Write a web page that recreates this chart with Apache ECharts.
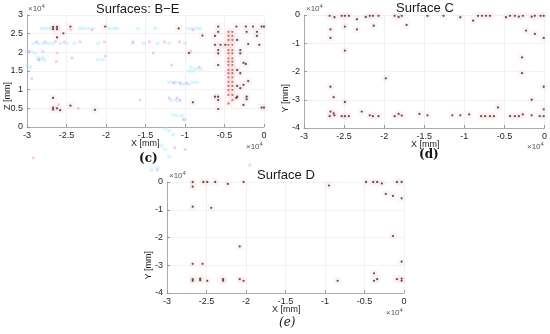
<!DOCTYPE html>
<html><head><meta charset="utf-8">
<script src="https://cdn.jsdelivr.net/npm/echarts@6/dist/echarts.min.js"></script>
<style>html,body{margin:0;padding:0;background:#fff}#c{width:550px;height:334px}</style>
</head><body><div id="c"></div>
<script>
// All coordinates in units of 1e4 mm (axis shows ×10^4)
const xTicks = [-3, -2.5, -2, -1.5, -1, -0.5, 0];
const zTicks = [0, 0.5, 1, 1.5, 2, 2.5, 3];
const yTicks = [-4, -3, -2, -1, 0];

// Panel (c) Surfaces: B-E — dark points
const cDarkX = [-2.67,-2.67,-2.62,-2.62,-2.54,-2.62,-2.45,-2.01,-2.67,-2.67,-2.67,-2.62,-2.58,-2.45,-2.14,
  -1.08,-0.95,-0.90,-0.78,
  -0.58,-0.35,-0.23,-0.14,-0.03,0.0,-0.58,-0.22,-0.09,-0.62,-0.09,-0.62,-0.55,-0.49,-0.20,-0.06,
  -0.58,-0.30,-0.58,-0.30,-0.26,-0.23,-0.58,-0.30,-0.20,-0.26,-0.62,-0.58,-0.34,-0.22,-0.58,-0.22,-0.35,-0.26,-0.58,-0.03,0.0,-0.34,-0.34,-0.30,-0.34];
const cDarkY = [2.68,2.62,2.68,2.62,2.51,2.40,2.69,2.69,0.78,0.52,0.47,0.50,0.45,0.57,0.46,
  2.64,1.98,0.66,2.45,
  2.69,2.69,2.69,2.69,2.69,2.69,2.55,2.55,2.55,2.44,2.44,2.20,2.20,2.20,2.22,2.20,
  2.06,2.06,1.97,1.97,1.72,1.69,1.66,1.44,1.23,1.13,0.81,0.81,0.81,0.81,0.72,0.74,0.78,0.59,0.48,0.52,0.52,2.33,1.53,1.04,1.10];
// Panel (c) — dense red column
const cRedX = [-0.45,-0.40,-0.45,-0.40,-0.45,-0.40,-0.45,-0.40,-0.45,-0.40,-0.45,-0.40,-0.45,-0.40,-0.45,-0.40,-0.45,-0.40,-0.45,-0.40,-0.45,-0.40,-0.45,-0.40,-0.45,-0.40,-0.45,-0.40,-0.45,-0.40,-0.45,-0.40,-0.40,-0.45];
const cRedY = [2.55,2.55,2.44,2.44,2.33,2.33,2.20,2.20,2.06,2.06,1.97,1.97,1.84,1.84,1.75,1.75,1.66,1.66,1.53,1.53,1.44,1.44,1.33,1.33,1.21,1.21,1.10,1.10,0.99,0.99,0.86,0.86,0.72,0.63];
// Panel (c) — faint magenta points
const cPinkX = [-2.88,-2.77,-2.64,-2.53,-2.45,-2.33,-2.18,-2.02,-1.66,-1.45,-1.26,-1.07,-0.90,
  -2.98,-2.80,-2.62,-1.40,-0.93,-2.85,-2.63,-2.43,-2.01,-2.94,-1.17,-0.82,-1.14,-1.06,-0.98,-1.20,-1.10,-1.57,-1.06,-1.02,-2.92,-1.13,-1.00,-0.18,-2.60,-2.35,-1.35];
const cPinkY = [2.28,2.28,2.28,2.28,2.60,2.28,2.60,2.28,2.28,2.28,2.28,2.28,2.60,
  2.02,2.02,1.98,1.98,2.02,1.80,1.75,1.85,1.90,1.30,1.66,1.60,1.18,1.18,1.18,0.78,0.78,0.72,0.72,0.20,-0.83,-0.55,-0.60,-1.02,0.60,0.50,-1.15];
// Panel (c) — faint cyan points
const cCyanX = [-2.81,-2.77,-2.73,-2.69,-2.33,-2.28,-2.22,-2.16,-1.95,-1.90,-1.86,-1.60,-1.38,-0.97,-0.92,-0.86,-0.81,
  -2.92,-2.86,-2.80,-2.74,-2.68,-2.58,-2.50,-2.40,-2.10,-1.66,-1.52,-1.35,-1.20,-1.00,
  -3.00,-2.95,-2.90,-2.86,-2.80,-2.84,-2.78,-2.10,-2.04,-3.00,-2.96,-0.92,-0.86,-0.80,
  -1.20,-1.15,-1.10,-1.05,-1.00,-0.95,-0.90,-0.85,-1.18,-1.12,-1.08,-1.15,-1.10,-1.04,-1.00,-1.25,-1.20,-1.15,-1.30,-1.25,-1.20,-1.42,-1.35,-0.95,-0.90];
const cCyanY = [2.64,2.64,2.64,2.64,2.64,2.64,2.64,2.64,2.64,2.64,2.64,2.64,2.64,2.64,2.64,2.64,2.64,
  2.24,2.24,2.24,2.24,2.24,2.24,2.24,2.24,2.24,2.24,2.24,2.24,2.24,2.24,
  2.02,2.02,1.98,1.85,1.85,1.80,1.80,1.80,1.80,1.66,1.60,1.60,1.55,1.55,
  1.20,1.20,1.20,1.15,1.15,1.15,1.20,1.20,0.72,0.72,0.70,0.32,0.30,0.30,0.20,-0.05,-0.10,-0.20,-0.50,-0.60,-0.80,-1.15,-1.10,1.50,1.50];

// Panel (d) Surface C
const dX = [-2.68,-2.62,-2.53,-2.49,-2.44,-2.34,-2.23,-2.18,-2.14,-2.07,-1.87,-1.82,-1.78,-1.46,-1.26,-1.05,-0.89,-0.83,-0.78,-0.73,-0.68,-0.48,-0.43,-0.37,-0.32,-0.27,-0.16,-0.12,-0.05,-0.01,
  -2.67,-2.67,-2.49,-2.49,-2.34,-2.13,-1.98,-1.72,-2.67,-2.63,-2.49,-2.67,-2.63,
  -2.68,-2.62,-2.53,-2.49,-2.44,-2.28,-2.18,-2.14,-2.07,-1.87,-1.82,-1.78,-1.56,-1.46,-1.15,-1.05,-0.94,-0.79,-0.74,-0.68,-0.63,-0.58,-0.43,-0.37,-0.32,-0.27,-0.16,-0.06,-0.01,
  -0.23,-0.12,-0.01,-0.28,-0.28,-0.01,-0.16,-0.01];
const dY = [-0.03,-0.08,-0.03,-0.03,-0.03,-0.15,-0.07,-0.03,-0.03,-0.03,-0.03,-0.07,-0.03,-0.03,-0.03,-0.08,-0.20,-0.03,-0.03,-0.03,-0.03,-0.08,-0.03,-0.03,-0.06,-0.03,-0.06,-0.03,-0.03,-0.03,
  -0.51,-0.81,-0.41,-1.26,-0.51,-0.38,-2.24,-0.35,-2.54,-2.91,-3.08,-3.42,-3.48,
  -3.58,-3.55,-3.58,-3.58,-3.58,-3.42,-3.55,-3.58,-3.58,-3.58,-3.50,-3.56,-3.50,-3.55,-3.55,-3.55,-3.52,-3.58,-3.58,-3.58,-3.58,-3.27,-3.58,-3.58,-3.58,-3.52,-3.55,-3.58,-3.58,
  -0.55,-0.67,-0.81,-1.50,-2.06,-2.54,-3.00,-3.34];

// Panel (e) Surface D
const eX = [-2.675,-2.54,-2.49,-2.39,-2.23,-2.03,-0.48,-0.39,-0.34,-0.28,-0.09,-0.03,
  -2.675,-2.675,-2.44,-0.95,-0.23,-0.14,-0.03,-0.14,-2.08,-0.03,-2.675,-2.55,-0.38,
  -2.675,-2.675,-2.58,-2.58,-2.49,-2.29,-2.29,-2.08,-2.03,-0.84,-0.38,-0.34,-0.09,-0.03,-0.03];
const eY = [0,0,0,0,-0.07,0,0,0,0,-0.05,0,0,
  -0.17,-0.89,-0.93,-0.13,-0.43,-0.50,-0.59,-1.95,-2.32,-2.87,-2.95,-2.95,-3.29,
  -3.50,-3.56,-3.48,-3.54,-3.56,-3.50,-3.56,-3.50,-3.56,-3.56,-3.56,-3.50,-3.50,-3.48,-3.56];

const zip = (a, b) => a.map((v, i) => [v, b[i]]);
const axisCommon = {
  axisLine: {show: true, onZero: false, lineStyle: {color: '#999', width: 0.8}},
  axisTick: {show: true, inside: true, length: 3, lineStyle: {color: '#999'}},
  axisLabel: {color: '#262626', fontSize: 9, fontFamily: 'Liberation Sans, Arial', margin: 4},
  splitLine: {show: true, lineStyle: {color: '#efefef', width: 0.8}}
};
const xAx = (gi) => Object.assign({}, axisCommon, {type: 'value', gridIndex: gi, min: -3, max: 0, interval: 0.5,
  axisLabel: Object.assign({}, axisCommon.axisLabel, {formatter: v => xTicks.includes(v) ? String(v) : ''})});
const yAx = (gi, mn, mx, iv, ticks) => Object.assign({}, axisCommon, {type: 'value', gridIndex: gi, min: mn, max: mx, interval: iv,
  axisLabel: Object.assign({}, axisCommon.axisLabel, {formatter: v => ticks.includes(v) ? String(v) : ''})});

const halo = (xi, d) => ({type: 'scatter', xAxisIndex: xi, yAxisIndex: xi, data: d, symbol: 'rect', symbolSize: 7,
  itemStyle: {color: 'rgba(248,205,215,0.28)'}, silent: true, clip: false});
const dots = (xi, d, col, sz) => ({type: 'scatter', xAxisIndex: xi, yAxisIndex: xi, data: d, symbol: 'circle', symbolSize: sz || 2.4,
  itemStyle: {color: col}, clip: false});

const txt = (x, y, s, opt) => ({type: 'text', left: x, top: y, style: Object.assign({text: s, fill: '#262626', fontSize: 9, fontFamily: 'Liberation Sans, Arial'}, opt || {})});
const exp = (x, y) => ({type: 'text', left: x, top: y, style: {rich: {a: {fontSize: 8, fill: '#555', fontFamily: 'Liberation Sans'}, b: {fontSize: 6, fill: '#555', verticalAlign: 'top', padding: [0,0,5,0]}}, text: '{a|×10}{b|4}'}});

const chart = echarts.init(document.getElementById('c'));
chart.setOption({
  animation: false,
  backgroundColor: '#fff',
  grid: [
    {left: 27, top: 15, width: 237, height: 112},
    {left: 304, top: 15, width: 241, height: 113},
    {left: 167, top: 182, width: 237, height: 111}
  ],
  xAxis: [xAx(0), xAx(1), xAx(2)],
  yAxis: [yAx(0, 0, 3, 0.5, zTicks), yAx(1, -4, 0, 1, yTicks), yAx(2, -4, 0, 1, yTicks)],
  series: [
    halo(0, zip(cDarkX, cDarkY)),
    halo(0, zip(cRedX, cRedY)),
    {type: 'scatter', xAxisIndex: 0, yAxisIndex: 0, data: zip(cCyanX, cCyanY), symbol: 'rect', symbolSize: [4, 3], itemStyle: {color: 'rgba(160,238,255,0.6)'}, clip: false},
    {type: 'scatter', xAxisIndex: 0, yAxisIndex: 0, data: zip(cPinkX, cPinkY), symbol: 'rect', symbolSize: 2.6, itemStyle: {color: 'rgba(255,120,225,0.55)'}, clip: false},
    dots(0, zip(cDarkX, cDarkY), '#3d2a22', 2.3),
    dots(0, zip(cRedX, cRedY), 'rgba(175,60,45,0.85)', 2.3),
    halo(1, zip(dX, dY)),
    dots(1, zip(dX, dY), '#4a2a1e', 2.3),
    halo(2, zip(eX, eY)),
    dots(2, zip(eX, eY), '#4a2a1e', 2.3)
  ],
  graphic: [
    txt(96, 3, 'Surfaces: B\u2212E', {fontSize: 13, fill: '#1a1a1a'}),
    txt(396, 2, 'Surface C', {fontSize: 13, fill: '#1a1a1a'}),
    txt(257, 169, 'Surface D', {fontSize: 13, fill: '#1a1a1a'}),
    exp(28, 3), exp(246, 141),
    exp(306, 3), exp(527, 141),
    exp(169, 170), exp(386, 307),
    txt(131, 139, 'X [mm]'), txt(411, 140, 'X [mm]'), txt(272, 305, 'X [mm]'),
    {type: 'text', left: 3, top: 82, rotation: Math.PI / 2, style: {text: 'Z [mm]', fill: '#262626', fontSize: 9, fontFamily: 'Liberation Sans'}},
    {type: 'text', left: 281, top: 84, rotation: Math.PI / 2, style: {text: 'Y [mm]', fill: '#262626', fontSize: 9, fontFamily: 'Liberation Sans'}},
    {type: 'text', left: 144, top: 251, rotation: Math.PI / 2, style: {text: 'Y [mm]', fill: '#262626', fontSize: 9, fontFamily: 'Liberation Sans'}},
    txt(139, 153, '(c)', {fontSize: 12, fontWeight: 'bold', fontFamily: 'DejaVu Serif, Liberation Serif', fill: '#111'}),
    txt(419, 149, '(d)', {fontSize: 12, fontWeight: 'bold', fontFamily: 'DejaVu Serif, Liberation Serif', fill: '#111'}),
    txt(279, 317, '(e)', {fontSize: 12, fontStyle: 'italic', fontFamily: 'DejaVu Serif, Liberation Serif', fill: '#111'})
  ]
});
</script></body></html>
